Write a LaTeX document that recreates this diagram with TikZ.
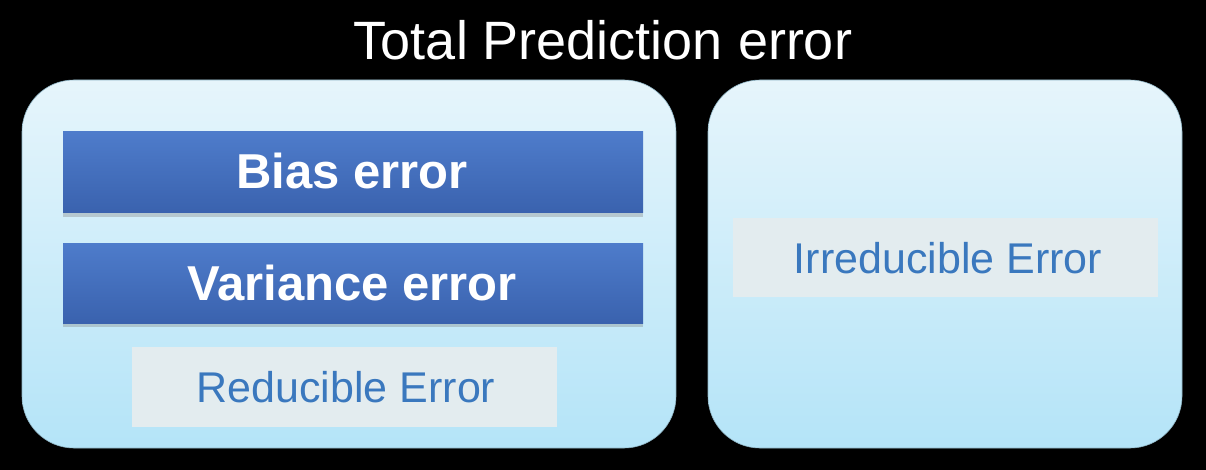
\documentclass[tikz,border=0pt]{standalone}
\usepackage{fontspec}
\setmainfont{Liberation Sans}
\usetikzlibrary{shadows}
\definecolor{boxtop}{HTML}{E6F5FB}
\definecolor{boxbot}{HTML}{B4E4F8}
\definecolor{bartop}{HTML}{4E7CCB}
\definecolor{barbot}{HTML}{3A62AE}
\definecolor{lblfill}{HTML}{E3ECEF}
\definecolor{lbltext}{HTML}{3A78BE}
\tikzset{
  panel/.style={rounded corners=52pt, top color=boxtop, bottom color=boxbot, draw=boxbot!80!black, line width=0.6pt},
  bar/.style={top color=bartop, bottom color=barbot, draw=none, drop shadow={shadow xshift=0pt, shadow yshift=-4pt, opacity=0.35}},
  lbl/.style={fill=lblfill, draw=none},
  bartext/.style={text=white, font=\fontsize{49}{55}\bfseries\selectfont, anchor=base},
  lbltxt/.style={text=lbltext, font=\fontsize{43}{50}\selectfont, anchor=base},
}
\begin{document}
\begin{tikzpicture}[x=1pt,y=-1pt]
\fill[black] (0,0) rectangle (1206,470);
\useasboundingbox (0,0) rectangle (1206,470);
\node[text=white, font=\fontsize{54}{60}\selectfont, anchor=base] (title) at (603,60) {Total Prediction error};
\path[panel] (22,80) rectangle (676,448);
\path[panel] (708,80) rectangle (1182,448);
\path[bar] (63,132) rectangle (643,213);
\path[bar] (63,243) rectangle (643,323);
\path[lbl] (132,347) rectangle (557,427);
\path[lbl] (733,218) rectangle (1158,297);
\node[bartext] (bias) at (352,189) {Bias error};
\node[bartext] (var) at (352,300) {Variance error};
\node[lbltxt] (red) at (346,402) {Reducible Error};
\node[lbltxt] (irr) at (948,273) {Irreducible Error};
\end{tikzpicture}
\end{document}
